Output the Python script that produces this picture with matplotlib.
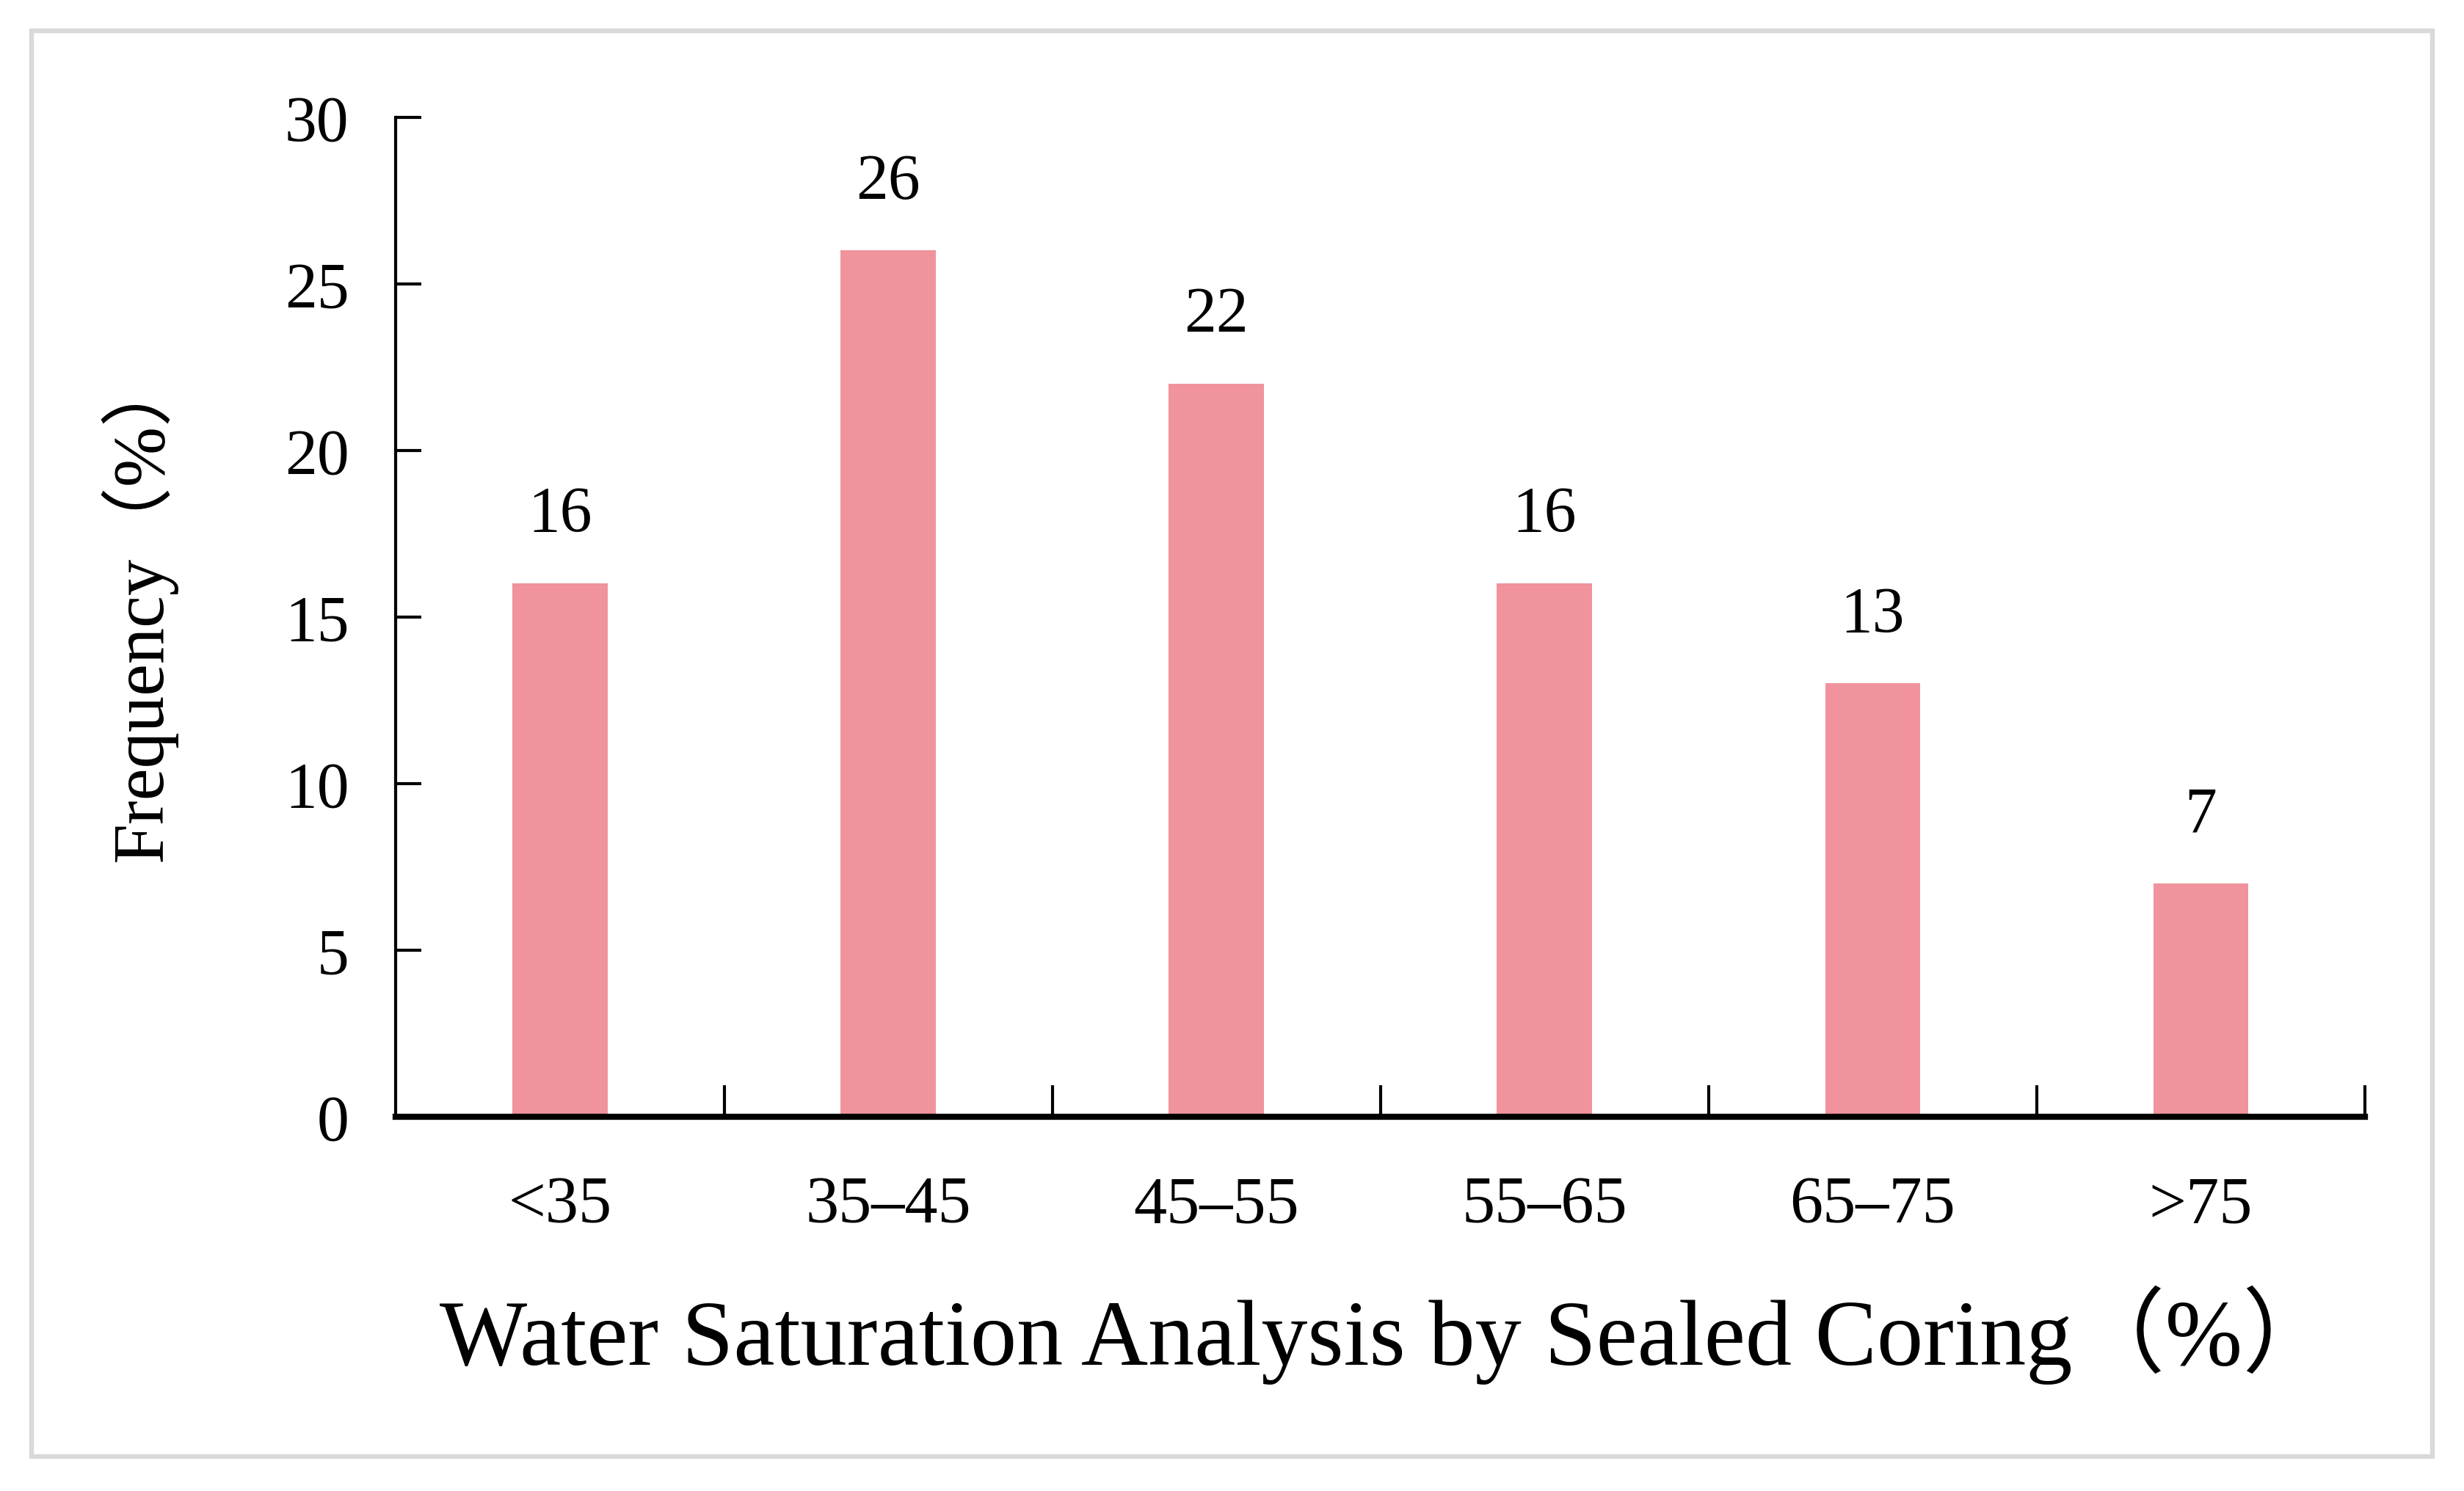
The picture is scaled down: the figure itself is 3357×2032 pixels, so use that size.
import matplotlib
matplotlib.use('Agg')
import matplotlib.pyplot as plt
from matplotlib.patches import Rectangle

# Données
categories = ['<35', '35–45', '45–55', '55–65', '65–75', '>75']
frequency = [16, 26, 22, 16, 13, 7]
y_ticks = [0, 5, 10, 15, 20, 25, 30]

plt.rcParams['font.family'] = ['Liberation Serif', 'Noto Sans CJK SC']

fig = plt.figure(figsize=(33.57, 20.33), dpi=100)
ax = fig.add_axes([0.1607, 0.2511, 0.7991, 0.6698])

x = list(range(len(categories)))
bars = ax.bar(x, frequency, width=0.29, color='#f0939d', zorder=2)

for xi, v in zip(x, frequency):
    ax.annotate(str(v), (xi, v), xytext=(0, 38), textcoords='offset points',
                ha='center', va='bottom', fontsize=63)

ax.set_xlim(-0.5, len(categories) - 0.5)
ax.set_ylim(0, 30)
ax.set_yticks(y_ticks)
ax.set_yticklabels([str(t) for t in y_ticks], fontsize=63)
ax.set_xticks(x)
ax.set_xticklabels(categories, fontsize=65)
ax.set_xticks([i + 0.5 for i in x], minor=True)

ax.tick_params(axis='x', which='major', length=0, pad=58)
ax.tick_params(axis='x', which='minor', direction='in', length=31, width=3)
ax.tick_params(axis='y', direction='in', length=25, width=3, pad=46)

ax.spines['top'].set_visible(False)
ax.spines['right'].set_visible(False)
ax.spines['left'].set_linewidth(3)
ax.spines['bottom'].set_linewidth(6)
ax.spines['bottom'].set_zorder(3)

fig.text(0.563, 0.105, 'Water Saturation Analysis by Sealed Coring（%）',
         ha='center', va='center', fontsize=91)
fig.text(0.056, 0.593, 'Frequency（%）', rotation=90,
         ha='center', va='center', fontsize=71)

# cadre gris
fig.patches.append(Rectangle((0.0128, 0.0232), 0.9744, 0.9558, transform=fig.transFigure,
                             fill=False, edgecolor='#d9d9d9', linewidth=4.6))

fig.savefig('out.png', dpi=100)
